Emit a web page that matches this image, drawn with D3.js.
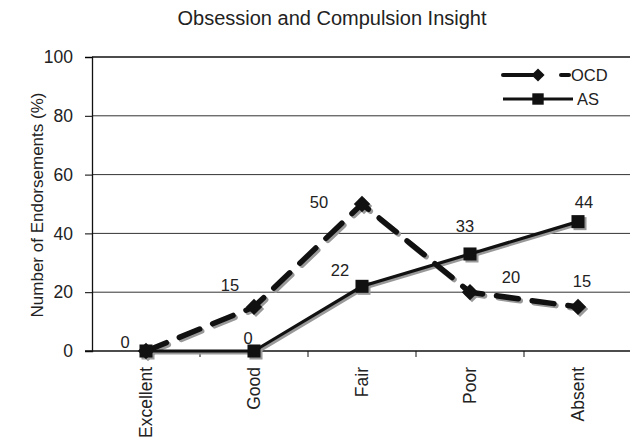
<!DOCTYPE html>
<html>
<head>
<meta charset="utf-8">
<script src="https://cdn.jsdelivr.net/npm/d3@7"></script>
<style>
  body { margin: 0; background: #fff; }
  svg { font-family: "Liberation Sans", Arial, sans-serif; display: block; }
</style>
</head>
<body>
<div id="chart"></div>
<script>
// chart values
var categories = ["Excellent", "Good", "Fair", "Poor", "Absent"];
var ocdValues = [0, 15, 50, 20, 15];
var asValues = [0, 0, 22, 33, 44];
var yTicks = [0, 20, 40, 60, 80, 100];

// label nudges (layout only), null = no label
var ocdLabelOffset = [[-21, -3], [-24, -16], [-43, 4], [41, -9], [4, -20]];
var asLabelOffset = [null, [-6, -7], [-22, -10], [-5, -22], [6, -14]];

var svgWidth = 630;
var svgHeight = 439;
var margin = { top: 57, right: -2, bottom: 88, left: 92 };
var width = svgWidth - margin.left - margin.right;
var height = svgHeight - margin.top - margin.bottom;

var svg = d3.select("#chart").append("svg")
  .attr("width", svgWidth)
  .attr("height", svgHeight);

svg.append("text")
  .attr("x", 332)
  .attr("y", 25)
  .attr("text-anchor", "middle")
  .attr("font-size", 20)
  .attr("fill", "#222")
  .text("Obsession and Compulsion Insight");

var chartGroup = svg.append("g")
  .attr("transform", `translate(${margin.left}, ${margin.top})`);

var x = d3.scaleBand().domain(categories).range([0, width]);
var y = d3.scaleLinear().domain([0, 100]).range([height, 0]);

// gridlines
chartGroup.selectAll("line.grid")
  .data(yTicks.filter(d => d > 0))
  .enter()
  .append("line")
  .attr("class", "grid")
  .attr("x1", 0)
  .attr("x2", width)
  .attr("y1", d => y(d))
  .attr("y2", d => y(d))
  .attr("stroke", d => d === 100 ? "#111" : "#333")
  .attr("stroke-width", d => d === 100 ? 1.6 : 1);

// y axis
var yAxis = d3.axisLeft(y).tickValues(yTicks).tickSize(7).tickPadding(12);
var yG = chartGroup.append("g").call(yAxis);
yG.select(".domain").attr("stroke", "#111").attr("stroke-width", 1.3);
yG.selectAll("text").attr("font-size", 17.5).attr("fill", "#222")
  .attr("font-family", "Liberation Sans, Arial, sans-serif");

// x axis with ticks at band edges
var xG = chartGroup.append("g").attr("transform", `translate(0, ${height})`);
xG.append("line").attr("x1", -7).attr("x2", width).attr("y1", 0).attr("y2", 0)
  .attr("stroke", "#111").attr("stroke-width", 1.3);
xG.selectAll("line.tk")
  .data(categories.slice(1))
  .enter()
  .append("line")
  .attr("class", "tk")
  .attr("x1", d => x(d)).attr("x2", d => x(d))
  .attr("y1", 0).attr("y2", 6)
  .attr("stroke", "#111");
xG.selectAll("text")
  .data(categories)
  .enter()
  .append("text")
  .attr("transform", d => `translate(${x(d) + x.bandwidth() / 2 + 6}, 16) rotate(-90)`)
  .attr("text-anchor", "end")
  .attr("font-size", 17.5)
  .attr("fill", "#222")
  .text(d => d);

// y axis title
svg.append("text")
  .attr("transform", "translate(43, 205) rotate(-90)")
  .attr("text-anchor", "middle")
  .attr("font-size", 17)
  .attr("fill", "#222")
  .text("Number of Endorsements (%)");

var cx = d => x(d) + x.bandwidth() / 2;
var line = d3.line()
  .x((d, i) => cx(categories[i]))
  .y(d => y(d));

function drawSeries(values, opts, dx, dy, color) {
  var g = chartGroup.append("g").attr("transform", `translate(${dx}, ${dy})`);
  g.append("path")
    .datum(values)
    .attr("d", line)
    .attr("fill", "none")
    .attr("stroke", color)
    .attr("stroke-width", opts.width)
    .attr("stroke-linecap", opts.dash ? "round" : "butt")
    .attr("stroke-dasharray", opts.dash || null);
  g.selectAll("path.m")
    .data(values)
    .enter()
    .append("path")
    .attr("class", "m")
    .attr("transform", (d, i) => `translate(${cx(categories[i])}, ${y(d)})`)
    .attr("d", d3.symbol().type(opts.symbol).size(opts.size))
    .attr("fill", color);
}

var ocdStyle = { width: 5.5, dash: "22,14", symbol: d3.symbolDiamond2, size: 170 };
var asStyle = { width: 3.2, dash: null, symbol: d3.symbolSquare, size: 170 };

drawSeries(ocdValues, ocdStyle, 2, 2, "#999");
drawSeries(asValues, asStyle, 2, 2, "#999");
drawSeries(ocdValues, ocdStyle, 0, 0, "#111");
drawSeries(asValues, asStyle, 0, 0, "#111");

// value labels
function labels(values, offs) {
  chartGroup.selectAll(null)
    .data(values.map((v, i) => ({ v: v, i: i })).filter(d => offs[d.i]))
    .enter()
    .append("text")
    .attr("x", d => cx(categories[d.i]) + offs[d.i][0])
    .attr("y", d => y(d.v) + offs[d.i][1])
    .attr("text-anchor", "middle")
    .attr("font-size", 16.5)
    .attr("fill", "#222")
    .text(d => d.v);
}
labels(ocdValues, ocdLabelOffset);
labels(asValues, asLabelOffset);

// legend
var legend = svg.append("g").attr("transform", "translate(503, 75)");
legend.append("line").attr("x1", 0).attr("x2", 38).attr("y1", 0).attr("y2", 0)
  .attr("stroke", "#111").attr("stroke-width", 4).attr("stroke-linecap", "round");
legend.append("path").attr("transform", "translate(35, 0)")
  .attr("d", d3.symbol().type(d3.symbolDiamond2).size(110)).attr("fill", "#111");
legend.append("line").attr("x1", 58).attr("x2", 66).attr("y1", 0).attr("y2", 0)
  .attr("stroke", "#111").attr("stroke-width", 4).attr("stroke-linecap", "round");
legend.append("text").attr("x", 68).attr("y", 6).attr("font-size", 16.5).attr("fill", "#222").text("OCD");

var legend2 = svg.append("g").attr("transform", "translate(503, 99)");
legend2.append("line").attr("x1", 0).attr("x2", 70).attr("y1", 0).attr("y2", 0)
  .attr("stroke", "#111").attr("stroke-width", 3);
legend2.append("path").attr("transform", "translate(35, 0)")
  .attr("d", d3.symbol().type(d3.symbolSquare).size(130)).attr("fill", "#111");
legend2.append("text").attr("x", 74).attr("y", 6).attr("font-size", 16.5).attr("fill", "#222").text("AS");
</script>
</body>
</html>
